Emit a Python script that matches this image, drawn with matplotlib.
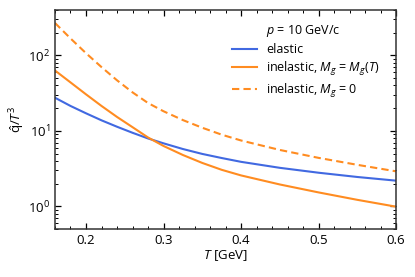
import matplotlib
matplotlib.use("Agg")
import matplotlib.pyplot as plt
from matplotlib.ticker import MultipleLocator, LogLocator, NullFormatter

plt.rcParams.update({
    "font.family": "Open Sans",
    "font.size": 9.5,
    "mathtext.fontset": "custom",
    "mathtext.rm": "Open Sans",
    "mathtext.it": "Open Sans:italic",
    "mathtext.bf": "Open Sans:bold",
    "xtick.direction": "in",
    "ytick.direction": "in",
    "xtick.top": True,
    "ytick.right": True,
})

temperature = [0.16, 0.18, 0.20, 0.22, 0.24, 0.26, 0.28, 0.30,
               0.325, 0.35, 0.375, 0.40, 0.45, 0.50, 0.55, 0.60]
qhat_elastic = [27.5, 21.4, 17.1, 13.8, 11.35, 9.44, 7.94, 6.84,
                5.75, 4.95, 4.37, 3.89, 3.24, 2.79, 2.45, 2.19]
qhat_inel_mgT = [63.1, 43.9, 30.5, 21.4, 15.3, 11.2, 8.18, 6.31,
                 4.79, 3.76, 3.05, 2.57, 1.95, 1.53, 1.22, 0.99]
qhat_inel_mg0 = [269, 168, 107, 70, 46.8, 32.4, 23.4, 18.2,
                 13.9, 11.0, 8.91, 7.46, 5.59, 4.39, 3.55, 2.91]

blue = "#4169e1"
orange = "#ff8c21"

fig = plt.figure(figsize=(4.15, 2.77), dpi=100)
ax = fig.add_axes([0.1325, 0.173, 0.822, 0.791])

ax.plot([], [], color="none", label=r"$p$ = 10 GeV/c")
ax.plot(temperature, qhat_elastic, color=blue, lw=1.5, label="elastic")
ax.plot(temperature, qhat_inel_mgT, color=orange, lw=1.5,
        label=r"inelastic, $M_g$ = $M_g(T)$")
ax.plot(temperature, qhat_inel_mg0, color=orange, lw=1.5, dashes=(3.5, 2),
        label=r"inelastic, $M_g$ = 0")

ax.set_yscale("log")
ax.set_xlim(0.16, 0.6)
ax.set_ylim(0.5, 400)

ax.xaxis.set_major_locator(MultipleLocator(0.1))
ax.xaxis.set_minor_locator(MultipleLocator(0.02))
ax.yaxis.set_major_locator(LogLocator(base=10))
ax.yaxis.set_minor_locator(LogLocator(base=10, subs=range(2, 10)))
ax.yaxis.set_minor_formatter(NullFormatter())

ax.tick_params(which="major", length=4, width=0.9)
ax.tick_params(which="minor", length=2, width=0.7)
for s in ax.spines.values():
    s.set_linewidth(1.1)
    s.set_color("#333333")

ax.set_xlabel(r"$T$ [GeV]", labelpad=1)
ax.set_ylabel(r"$\hat{\mathrm{q}}/T^3$", labelpad=1)

leg = ax.legend(loc="upper right", bbox_to_anchor=(0.985, 0.99), frameon=False,
                handlelength=2.0, handletextpad=0.75, labelspacing=0.3,
                fontsize=9)

fig.savefig("out.png", dpi=100)
